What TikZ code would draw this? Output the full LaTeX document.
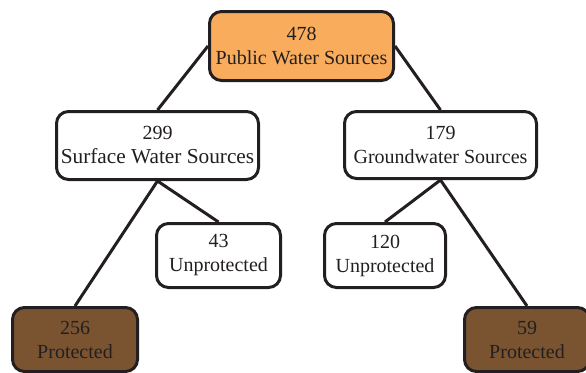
\documentclass[tikz,border=0pt]{standalone}
\usepackage{fontspec}
\setmainfont{Liberation Serif}
\usetikzlibrary{backgrounds}
\definecolor{inkc}{HTML}{231F20}
\definecolor{orangefill}{HTML}{F9AD5C}
\definecolor{brownfill}{HTML}{7A5431}
\tikzset{
  box/.style={draw=inkc, line width=3pt, rounded corners=12pt, fill=white,
    text=inkc, align=center, inner sep=0pt, font=\fontsize{20}{24}\selectfont},
  conn/.style={draw=inkc, line width=3pt}
}
\begin{document}
\begin{tikzpicture}[x=1pt,y=-1pt]
\useasboundingbox (0,0) rectangle (586,372);
\node[box, fill=orangefill, minimum width=184pt, minimum height=69pt] (top) at (301.5,46) {478\\Public Water Sources};
\node[box, minimum width=202pt, minimum height=68pt] (surf) at (157.5,145.5) {299\\\fontsize{21.3}{24}\selectfont Surface Water Sources};
\node[box, minimum width=192pt, minimum height=67pt] (ground) at (440.5,145) {179\\Groundwater Sources};
\node[box, minimum width=124pt, minimum height=64pt] (u43) at (218.5,255.5) {43\\Unprotected};
\node[box, minimum width=121pt, minimum height=64pt] (u120) at (385,255.5) {120\\Unprotected};
\node[box, fill=brownfill, minimum width=125pt, minimum height=64pt] (p256) at (75,339.5) {256\\Protected};
\node[box, fill=brownfill, minimum width=125pt, minimum height=64pt] (p59) at (527,339.5) {59\\Protected};
\begin{scope}[on background layer]
\draw[conn] (top.west) -- (surf.north);
\draw[conn] (top.east) -- (ground.north);
\draw[conn] (surf.south) -- (u43.north);
\draw[conn] (surf.south) -- (p256.north);
\draw[conn] (ground.south) -- (u120.north);
\draw[conn] (ground.south) -- (p59.north);
\end{scope}
\end{tikzpicture}
\end{document}
